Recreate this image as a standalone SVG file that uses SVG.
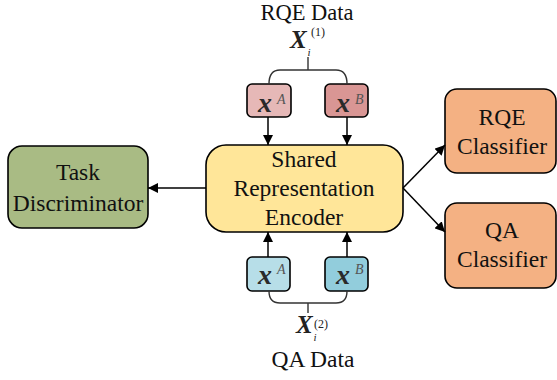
<svg xmlns="http://www.w3.org/2000/svg" width="557" height="380" viewBox="0 0 557 380">
<defs>
<marker id="arr" viewBox="0 0 10 10" refX="10" refY="5" markerWidth="10" markerHeight="10" markerUnits="userSpaceOnUse" orient="auto">
<path d="M0,0 L10,5 L0,10 z" fill="#000"/>
</marker>
</defs>
<style>
.box{stroke:#000;stroke-width:1.6}
.lbl{font-family:"Liberation Serif","Times New Roman",serif;font-size:23.5px;fill:#111;text-anchor:middle}
.var{font-family:"Liberation Serif","Times New Roman",serif;font-weight:bold;font-style:italic;font-size:25px;fill:#222}
.bx{font-family:"Liberation Serif","Times New Roman",serif;font-weight:bold;font-style:italic;font-size:28px;fill:#2a2a2a}
.sup{font-family:"Liberation Serif","Times New Roman",serif;font-style:italic;font-size:14px;fill:#555}
.idx{font-family:"Liberation Serif","Times New Roman",serif;font-style:italic;font-size:11px;fill:#222}
.par{font-family:"Liberation Serif","Times New Roman",serif;font-size:12px;fill:#222}
.conn{stroke:#000;stroke-width:1.5;fill:none}
.brace{stroke:#333;stroke-width:1.4;fill:none}
</style>
<rect width="557" height="380" fill="#fff"/>

<g id="rqe-data">
<text class="lbl" x="307" y="20" style="font-size:22.5px">RQE Data</text>
<text class="var" x="290" y="48">X</text>
<text class="idx" x="307.5" y="56">i</text>
<text class="par" x="311" y="36">(1)</text>
</g>
<g id="qa-data">
<text class="lbl" x="313" y="367">QA Data</text>
<text class="var" x="296" y="333">X</text>
<text class="idx" x="313.5" y="341">i</text>
<text class="par" x="314" y="328">(2)</text>
</g>

<g id="rqe-xA">
<rect class="box" x="247" y="84" width="44" height="33" rx="5" fill="#e6b8b7"/>
<text class="bx" x="258" y="112">x</text><text class="sup" x="277" y="104">A</text>
</g>
<g id="rqe-xB">
<rect class="box" x="325" y="84" width="43" height="33" rx="5" fill="#d99694"/>
<text class="bx" x="336" y="112">x</text><text class="sup" x="355" y="104">B</text>
</g>
<g id="qa-xA">
<rect class="box" x="247" y="257" width="43" height="34" rx="5" fill="#b7dee8"/>
<text class="bx" x="258" y="284">x</text><text class="sup" x="277" y="274">A</text>
</g>
<g id="qa-xB">
<rect class="box" x="325" y="257" width="43" height="34" rx="5" fill="#92cddc"/>
<text class="bx" x="336" y="284">x</text><text class="sup" x="355" y="274">B</text>
</g>

<g id="encoder">
<rect class="box" x="206" y="145" width="197" height="87" rx="20" fill="#ffe699"/>
<text class="lbl" x="304" y="167">Shared</text>
<text class="lbl" x="304" y="196">Representation</text>
<text class="lbl" x="304" y="225">Encoder</text>
</g>
<g id="task-discriminator">
<rect class="box" x="8" y="146" width="140" height="82" rx="14" fill="#a9bb84"/>
<text class="lbl" x="78" y="180">Task</text>
<text class="lbl" x="78" y="211">Discriminator</text>
</g>
<g id="rqe-classifier">
<rect class="box" x="445" y="89" width="111" height="84" rx="12" fill="#f4b183"/>
<text class="lbl" x="502" y="125">RQE</text>
<text class="lbl" x="502" y="154">Classifier</text>
</g>
<g id="qa-classifier">
<rect class="box" x="445" y="203" width="111" height="85" rx="12" fill="#f4b183"/>
<text class="lbl" x="502" y="238">QA</text>
<text class="lbl" x="502" y="267">Classifier</text>
</g>

<g id="connectors">
<path class="brace" d="M308,57 V70 M269,84 Q269,70 280,70 H336 Q347,70 347,84"/>
<path class="brace" d="M308,313 V303 M269,291 Q269,303 280,303 H336 Q347,303 347,291"/>
<line class="conn" x1="268" y1="117" x2="268" y2="145" marker-end="url(#arr)"/>
<line class="conn" x1="347" y1="117" x2="347" y2="145" marker-end="url(#arr)"/>
<line class="conn" x1="268" y1="257" x2="268" y2="232" marker-end="url(#arr)"/>
<line class="conn" x1="347" y1="257" x2="347" y2="232" marker-end="url(#arr)"/>
<line class="conn" x1="206" y1="188" x2="148" y2="188" marker-end="url(#arr)"/>
<line class="conn" x1="403" y1="188" x2="445" y2="145" marker-end="url(#arr)"/>
<line class="conn" x1="403" y1="188" x2="445" y2="232" marker-end="url(#arr)"/>
</g>
</svg>
